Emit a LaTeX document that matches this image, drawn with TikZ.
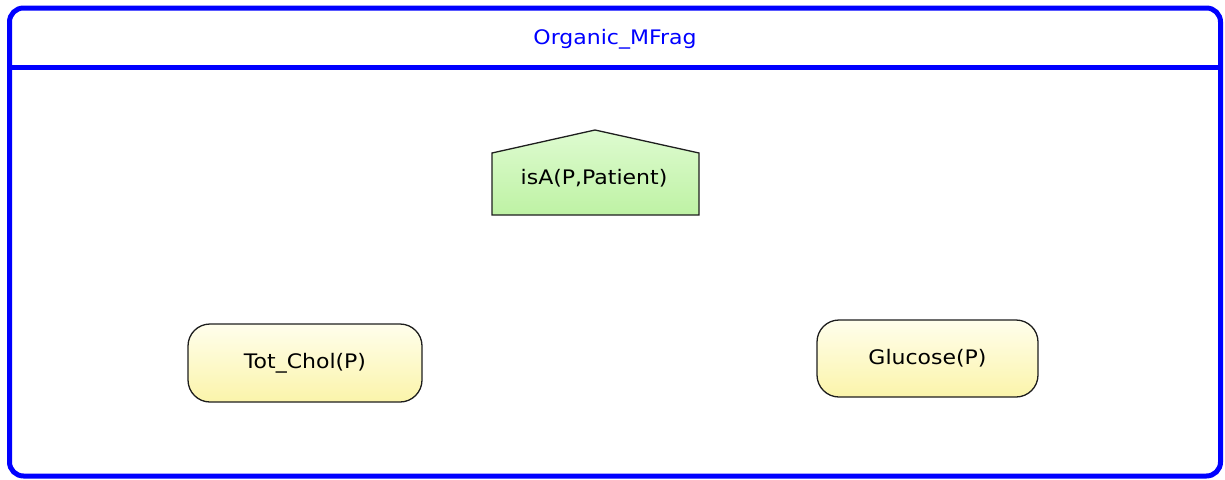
\documentclass[tikz,border=0pt]{standalone}
\usepackage{fontspec}
\setmainfont{DejaVu Sans}[FakeStretch=1.1]
\definecolor{frameblue}{RGB}{0,0,255}
\definecolor{greentop}{RGB}{222,251,208}
\definecolor{greenbot}{RGB}{190,242,164}
\definecolor{yellowtop}{RGB}{255,254,236}
\definecolor{yellowbot}{RGB}{251,244,170}
\definecolor{edgegray}{RGB}{30,30,30}
\tikzset{
  frag/.style={draw=frameblue, line width=5pt},
  label/.style={font=\fontsize{20}{24}\selectfont, text=black, inner sep=0pt},
  resnode/.style={draw=edgegray, line width=1.3pt, rounded corners=22pt,
    top color=yellowtop, bottom color=yellowbot,
    font=\fontsize{20}{24}\selectfont, inner sep=0pt},
  ctxnode/.style={draw=edgegray, line width=1.3pt, top color=greentop, bottom color=greenbot},
}
\begin{document}
\begin{tikzpicture}[x=1pt, y=-1pt]
  \useasboundingbox (0,0) rectangle (1225,479);
  % fragment frame with header bar
  \draw[frag, rounded corners=14pt] (9.5,8) rectangle (1220.5,476);
  \draw[frag] (9.5,67) -- (1220.5,67);
  \node[label, text=frameblue] (title) at (615,39) {Organic\_MFrag};
  % context node (house shape)
  \path[ctxnode] (492,215) -- (492,153) -- (595,130) -- (699,153) -- (699,215) -- cycle;
  \node[label] (isa) at (594,178) {isA(P,Patient)};
  % resident nodes
  \node[resnode, minimum width=234pt, minimum height=78pt] (tot) at (305,363) {Tot\_Chol(P)};
  \node[resnode, minimum width=221pt, minimum height=77pt] (glu) at (927.5,358.5) {Glucose(P)};
\end{tikzpicture}
\end{document}
